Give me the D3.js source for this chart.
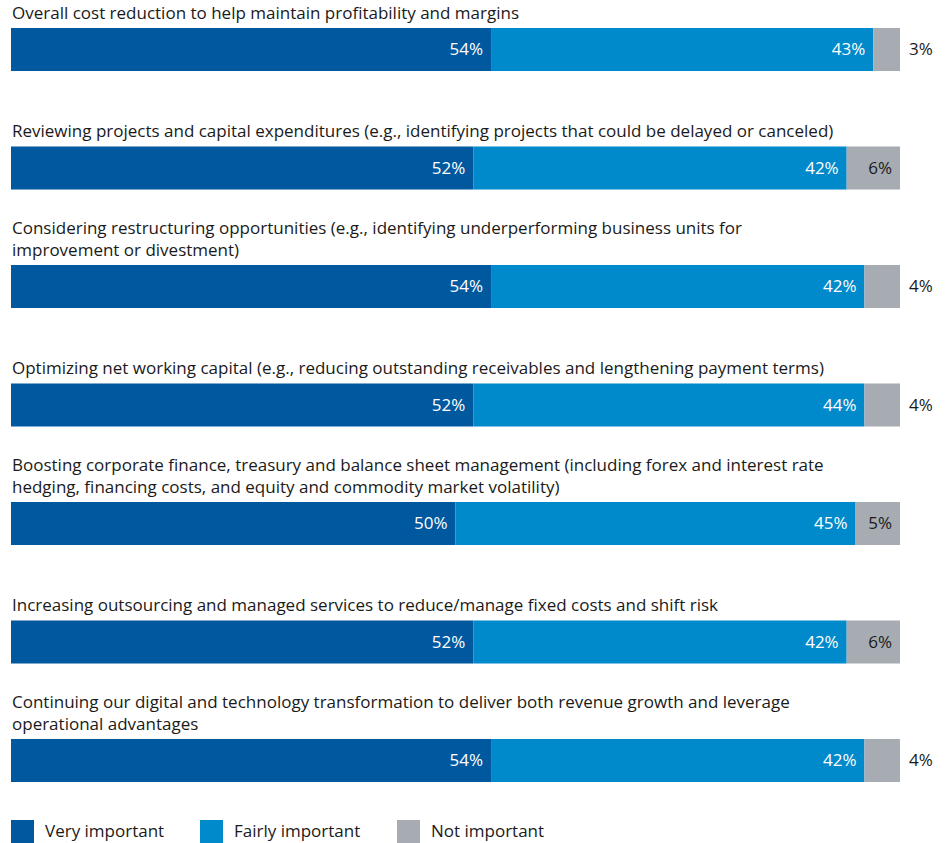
<!DOCTYPE html>
<html>
<head>
<meta charset="utf-8">
<script src="https://cdn.jsdelivr.net/npm/d3@7"></script>
<style>
  body { margin: 0; background: #fff; }
  text { font-family: "Open Sans", "Liberation Sans", Arial, sans-serif; }
</style>
</head>
<body>
<div class="chart"></div>
<script>
// survey items, line breaks as in the report
let categories = [
  "Overall cost reduction to help maintain profitability and margins",
  "Reviewing projects and capital expenditures (e.g., identifying projects that could be delayed or canceled)",
  "Considering restructuring opportunities (e.g., identifying underperforming business units for\nimprovement or divestment)",
  "Optimizing net working capital (e.g., reducing outstanding receivables and lengthening payment terms)",
  "Boosting corporate finance, treasury and balance sheet management (including forex and interest rate\nhedging, financing costs, and equity and commodity market volatility)",
  "Increasing outsourcing and managed services to reduce/manage fixed costs and shift risk",
  "Continuing our digital and technology transformation to deliver both revenue growth and leverage\noperational advantages",
];
let series = ["Very important", "Fairly important", "Not important"];
let veryImportant = [54, 52, 54, 52, 50, 52, 54];
let fairlyImportant = [43, 42, 42, 44, 45, 42, 42];
let notImportant = [3, 6, 4, 4, 5, 6, 4];

let colors = ["#00589f", "#0089cb", "#a7acb2"];

let width = 946;
let height = 843;

let svg = d3
  .select(".chart")
  .append("svg")
  .attr("width", width)
  .attr("height", height);

let data = categories.map((c, i) => ({
  category: c,
  "Very important": veryImportant[i],
  "Fairly important": fairlyImportant[i],
  "Not important": notImportant[i],
}));

let stacked = d3.stack().keys(series)(data);

let xScale = d3.scaleLinear().domain([0, 100]).range([11, 900]);
let yScale = d3
  .scaleBand()
  .domain(categories)
  .range([28, 782])
  .paddingInner(0.637)
  .paddingOuter(0);

let color = d3.scaleOrdinal().domain(series).range(colors);

// labels above each bar, bottom line sits just over the bar
let labels = svg
  .append("g")
  .selectAll("text")
  .data(categories)
  .enter()
  .append("text")
  .attr("font-size", 17)
  .attr("fill", "#1a1a1a")
  .attr("x", 12);

labels.each(function (d) {
  let lines = d.split("\n");
  let t = d3.select(this);
  lines.forEach((line, j) => {
    t.append("tspan")
      .attr("x", 12)
      .attr("y", yScale(d) - 9 - (lines.length - 1 - j) * 22)
      .text(line);
  });
});

// bars
let layer = svg
  .append("g")
  .selectAll("g")
  .data(stacked)
  .enter()
  .append("g")
  .attr("fill", (d) => color(d.key));

layer
  .selectAll("rect")
  .data((d) => d)
  .enter()
  .append("rect")
  .attr("x", (d) => xScale(d[0]))
  .attr("y", (d) => yScale(d.data.category))
  .attr("width", (d) => xScale(d[1]) - xScale(d[0]))
  .attr("height", yScale.bandwidth());

// value labels
stacked.forEach((s, si) => {
  svg
    .append("g")
    .selectAll("text")
    .data(s)
    .enter()
    .append("text")
    .attr("font-size", 17)
    .attr("dy", "0.35em")
    .attr("y", (d) => yScale(d.data.category) + yScale.bandwidth() / 2)
    .each(function (d) {
      let v = d[1] - d[0];
      let t = d3.select(this).text(v + "%");
      if (si === 2 && v < 5) {
        t.attr("x", xScale(d[1]) + 9).attr("text-anchor", "start").attr("fill", "#1a1a1a");
      } else {
        t.attr("x", xScale(d[1]) - 8)
          .attr("text-anchor", "end")
          .attr("fill", si === 2 ? "#1a1a1a" : "#fff");
      }
    });
});

// legend
let legendX = [11, 200, 397];
let legend = svg
  .append("g")
  .selectAll("g")
  .data(series)
  .enter()
  .append("g")
  .attr("transform", (d, i) => `translate(${legendX[i]}, 820)`);

legend
  .append("rect")
  .attr("width", 23)
  .attr("height", 23)
  .attr("fill", (d) => color(d));

legend
  .append("text")
  .attr("x", 34)
  .attr("y", 11.5)
  .attr("dy", "0.35em")
  .attr("font-size", 17)
  .attr("fill", "#1a1a1a")
  .text((d) => d);
</script>
</body>
</html>
